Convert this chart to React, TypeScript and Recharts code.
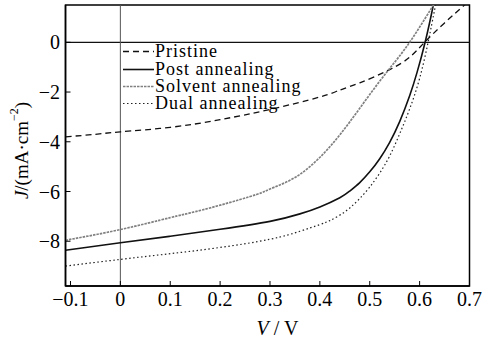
import React from 'react';
import { LineChart, Line, XAxis, YAxis, ReferenceLine, ReferenceArea, Legend } from 'recharts';

const xTicks = [-0.1, 0, 0.1, 0.2, 0.3, 0.4, 0.5, 0.6, 0.7];
const yTicks = [0, -2, -4, -6, -8];
const seriesNames = ['Pristine', 'Post annealing', 'Solvent annealing', 'Dual annealing'];

const pristineV = [-0.11, -0.05, 0, 0.1, 0.2, 0.3, 0.4, 0.44, 0.48, 0.54, 0.58, 0.61, 0.65, 0.69, 0.71];
const pristineJ = [-3.8, -3.7, -3.6, -3.42, -3.11, -2.7, -2.2, -1.92, -1.63, -1.1, -0.6, 0, 0.78, 1.5, 1.85];

const postV = [-0.11, 0, 0.1, 0.2, 0.3, 0.36, 0.4, 0.44, 0.46, 0.48, 0.5, 0.52, 0.54, 0.56, 0.58, 0.595, 0.611, 0.627, 0.64];
const postJ = [-8.36, -8.06, -7.8, -7.52, -7.2, -6.9, -6.62, -6.25, -5.98, -5.64, -5.21, -4.68, -4.02, -3.19, -2.15, -1.2, 0, 1.45, 2.78];

const solventV = [-0.11, 0, 0.1, 0.14, 0.2, 0.273, 0.3, 0.34, 0.38, 0.42, 0.46, 0.5, 0.54, 0.58, 0.62, 0.635];
const solventJ = [-7.96, -7.53, -7.05, -6.86, -6.55, -6.12, -5.9, -5.55, -5.0, -4.2, -3.2, -2.1, -1.05, 0, 1.25, 1.7];

const dualV = [-0.11, 0, 0.1, 0.2, 0.3, 0.36, 0.4, 0.42, 0.44, 0.46, 0.48, 0.5, 0.52, 0.54, 0.56, 0.58, 0.6, 0.617, 0.63, 0.64];
const dualJ = [-9.0, -8.73, -8.5, -8.25, -7.92, -7.6, -7.33, -7.17, -6.95, -6.66, -6.28, -5.82, -5.26, -4.57, -3.68, -2.68, -1.45, 0, 1.3, 2.3];

const toRows = (v: number[], j: number[]) => v.map((x, i) => ({ v: x, j: j[i] }));

const FONT = 'Liberation Serif, Times New Roman, serif';

const styles = [
  { stroke: '#111', width: 1.3, dash: '6 4' as string | undefined },
  { stroke: '#111', width: 1.6, dash: undefined as string | undefined },
  { stroke: '#808080', width: 1.7, dash: '2.5 1' as string | undefined },
  { stroke: '#222', width: 1.2, dash: '1.5 2.5' as string | undefined },
];

const seriesData = [
  toRows(pristineV, pristineJ),
  toRows(postV, postJ),
  toRows(solventV, solventJ),
  toRows(dualV, dualJ),
];

const fmt = (v: number) => {
  if (v === 0) return '0';
  const s = Number.isInteger(v) ? String(Math.abs(v)) : Math.abs(v).toFixed(1);
  return (v < 0 ? '\u2212' : '') + s;
};

const LegendContent = () => (
  <div style={{ fontFamily: FONT, fontSize: 18, letterSpacing: 1.0, color: '#000' }}>
    {seriesNames.map((n, i) => (
      <div key={n} style={{ display: 'flex', alignItems: 'center', height: 17.4, whiteSpace: 'nowrap' }}>
        <svg width={32} height={17} style={{ display: 'block' }}>
          <line x1={0} x2={31} y1={8.5} y2={8.5} stroke={styles[i].stroke} strokeWidth={styles[i].width} strokeDasharray={styles[i].dash} />
        </svg>
        <span style={{ lineHeight: '17px' }}>{n}</span>
      </div>
    ))}
  </div>
);

const YLabel = (props: any) => {
  const vb = props.viewBox || { x: 0, y: 5, width: 65, height: 281 };
  const cx = 21;
  const cy = vb.y + vb.height / 2 + 5;
  return (
    <text x={cx} y={cy} transform={`rotate(-90 ${cx} ${cy})`} textAnchor="middle" dominantBaseline="central" fontFamily={FONT} fontSize={19} fill="#000">
      <tspan fontStyle="italic">J</tspan>
      <tspan>/(mA·cm</tspan>
      <tspan dy={-7} fontSize={12}>−2</tspan>
      <tspan dy={7}>)</tspan>
    </text>
  );
};

const XLabel = (props: any) => {
  const vb = props.viewBox || { x: 65, y: 286, width: 404, height: 60 };
  const cx = vb.x + vb.width / 2 + 10;
  const cy = 328;
  return (
    <text x={cx} y={cy} textAnchor="middle" dominantBaseline="central" fontFamily={FONT} fontSize={20} fill="#000">
      <tspan fontStyle="italic">V</tspan>
      <tspan> / V</tspan>
    </text>
  );
};

export default function App() {
  return (
    <div style={{ position: 'absolute', left: 0, top: 0, background: '#fff' }}>
      <LineChart width={487} height={346} margin={{ top: 5, right: 17.5, bottom: 0, left: 0 }}>
        <XAxis
          dataKey="v"
          type="number"
          domain={[-0.11, 0.7]}
          ticks={xTicks}
          allowDataOverflow
          height={60}
          tickSize={-5}
          tickMargin={10.8}
          tickFormatter={fmt}
          axisLine={{ stroke: '#000', strokeWidth: 1.5 }}
          tickLine={{ stroke: '#000', strokeWidth: 1 }}
          tick={{ fontSize: 20, fill: '#000', fontFamily: FONT }}
          label={{ content: XLabel }}
        />
        <YAxis
          dataKey="j"
          type="number"
          domain={[-9.8, 1.5]}
          ticks={yTicks}
          allowDataOverflow
          width={65.5}
          tickSize={-5}
          tickMargin={10.5}
          tickFormatter={fmt}
          axisLine={{ stroke: '#000', strokeWidth: 1.5 }}
          tickLine={{ stroke: '#000', strokeWidth: 1 }}
          tick={{ fontSize: 20, fill: '#000', fontFamily: FONT }}
          label={{ content: YLabel }}
        />
        <ReferenceArea x1={-0.11} x2={0.7} y1={-9.8} y2={1.5} fill="none" fillOpacity={0} stroke="#000" strokeWidth={1.5} />
        <ReferenceLine y={0} stroke="#111" strokeWidth={1.3} />
        <ReferenceLine x={0} stroke="#555" strokeWidth={1} />
        {seriesData.map((d, i) => (
          <Line
            key={seriesNames[i]}
            data={d}
            dataKey="j"
            name={seriesNames[i]}
            type="natural"
            stroke={styles[i].stroke}
            strokeWidth={styles[i].width}
            strokeDasharray={styles[i].dash}
            dot={false}
            activeDot={false}
            isAnimationActive={false}
          />
        ))}
        <Legend
          layout="vertical"
          align="center"
          verticalAlign="middle"
          content={LegendContent}
          wrapperStyle={{ left: 123, top: 43, width: 'auto', height: 'auto' }}
        />
      </LineChart>
    </div>
  );
}
